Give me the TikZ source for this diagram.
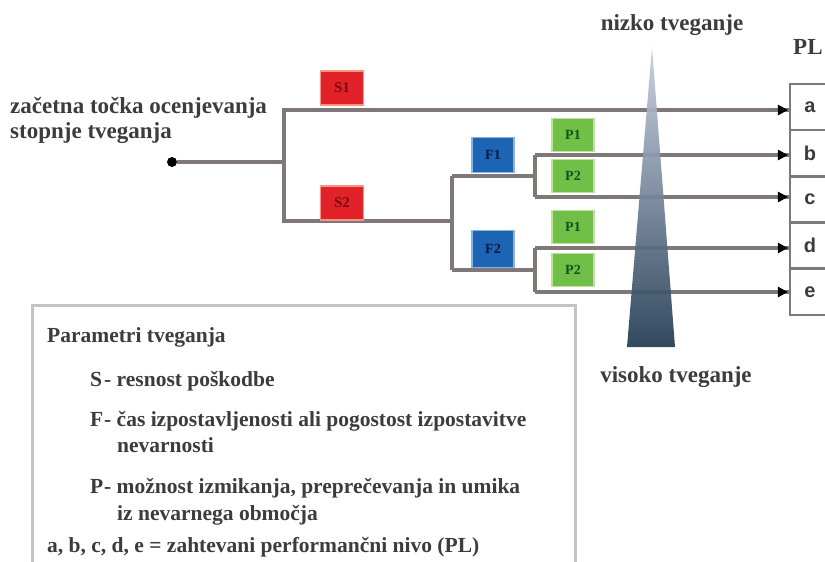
\documentclass[tikz,border=0pt]{standalone}
\usepackage{fontspec}
\setmainfont{Liberation Serif}
\setsansfont{Liberation Sans}
\usetikzlibrary{arrows.meta}
\definecolor{linegray}{RGB}{128,120,120}
\definecolor{sred}{RGB}{226,34,40}
\definecolor{sredb}{RGB}{245,150,130}
\definecolor{sredt}{RGB}{120,12,18}
\definecolor{fblue}{RGB}{28,100,180}
\definecolor{fblueb}{RGB}{140,180,225}
\definecolor{fbluet}{RGB}{8,25,60}
\definecolor{pgreen}{RGB}{112,192,72}
\definecolor{pgreenb}{RGB}{190,225,160}
\definecolor{pgreent}{RGB}{12,85,28}
\definecolor{legline}{RGB}{195,195,195}
\definecolor{txt}{RGB}{60,60,60}
\begin{document}
\begin{tikzpicture}[x=1pt,y=-1pt,
  conn/.style={draw=linegray,line width=3.5pt,line join=miter},
  sbox/.style={fill=sred,draw=sredb,line width=1.5pt,minimum width=43pt,minimum height=34pt,inner sep=0pt,text=sredt,font=\fontsize{15}{15}\selectfont\bfseries},
  fbox/.style={fill=fblue,draw=fblueb,line width=1.5pt,minimum width=42pt,minimum height=35pt,inner sep=0pt,text=fbluet,font=\fontsize{14}{14}\selectfont\bfseries},
  pbox/.style={fill=pgreen,draw=pgreenb,line width=1.5pt,minimum width=42pt,minimum height=33pt,inner sep=0pt,text=pgreent,font=\fontsize{14}{14}\selectfont\bfseries},
  plrow/.style={draw=linegray,line width=2.5pt,fill=white,minimum width=40pt,minimum height=46.2pt,inner sep=0pt,text=txt,font=\sffamily\fontsize{20}{20}\selectfont\bfseries},
  lbl/.style={inner sep=0pt,text=txt,font=\fontsize{23}{25}\selectfont\bfseries},
  tipfill/.style={fill=black},
  leg/.style={inner sep=0pt,anchor=base west,text=txt,font=\fontsize{21.5}{24}\selectfont\bfseries}
]
\useasboundingbox (0,0) rectangle (825,562);
\fill[white] (0,0) rectangle (825,562);

% PL column
\node[plrow] (ra) at (810,107) {a};
\node[plrow] (rb) at (810,153.2) {b};
\node[plrow] (rc) at (810,199.4) {c};
\node[plrow] (rd) at (810,245.6) {d};
\node[plrow] (re) at (810,291.8) {e};
\node[lbl,anchor=west] (pl) at (793,47) {PL};

% start
\node[circle,fill=black,inner sep=0pt,minimum size=10pt] (st) at (172,162) {};
\coordinate (j1) at (284,162);
\coordinate (j1t) at (284,110);
\coordinate (j1b) at (284,221);
\coordinate (j2) at (452,221);
\coordinate (j2t) at (452,176);
\coordinate (j2b) at (452,270);
\coordinate (j3) at (535,176);
\coordinate (j3t) at (535,155);
\coordinate (j3b) at (535,197);
\coordinate (j4) at (535,270);
\coordinate (j4t) at (535,248);
\coordinate (j4b) at (535,292);

\draw[conn] (st) -- (j1);
\draw[conn] (j2) -- (j1b) -- (j1t) -- (ra.west |- j1t);
\draw[conn] (j2t) -- (j2b);
\draw[conn] (j2t) -- (j3);
\draw[conn] (j2b) -- (j4);
\draw[conn] (j3t) -- (j3b);
\draw[conn] (j4t) -- (j4b);
\draw[conn] (j3t) -- (rb.west |- j3t);
\draw[conn] (j3b) -- (rc.west |- j3b);
\draw[conn] (j4t) -- (rd.west |- j4t);
\draw[conn] (j4b) -- (re.west |- j4b);

% boxes
\node[sbox] (s1) at (342,88) {S1};
\node[sbox] (s2) at (342,203) {S2};
\node[fbox] (f1) at (493,155) {F1};
\node[fbox,minimum height=37pt] (f2) at (493,249) {F2};
\node[pbox] (p1a) at (573,135) {P1};
\node[pbox] (p2a) at (573,176) {P2};
\node[pbox] (p1b) at (573,227) {P1};
\node[pbox] (p2b) at (573,270) {P2};

% risk spike
\shade[top color={rgb,255:red,200;green,208;blue,226},middle color={rgb,255:red,118;green,145;blue,192},bottom color={rgb,255:red,32;green,58;blue,82},opacity=0.92]
  (652,47) -- (675,347) -- (627,347) -- cycle;

% arrow tips
\foreach \r/\j in {ra/j1t,rb/j3t,rc/j3b,rd/j4t,re/j4b}{
  \fill[tipfill] ([xshift=-11pt,yshift=-5.5pt]\r.west |- \j) -- ([xshift=-1pt]\r.west |- \j) -- ([xshift=-11pt,yshift=5.5pt]\r.west |- \j) -- cycle;
}

% labels
\node[lbl,anchor=west,align=left] (start) at (10,120.5) {začetna točka ocenjevanja\\stopnje tveganja};
\node[lbl] (low) at (672,25) {nizko tveganje};
\node[lbl] (high) at (676,377) {visoko tveganje};

% legend
\draw[draw=legline,line width=3pt] (32,305) rectangle (575,580);
\node[leg] (lg0) at (47,342) {Parametri tveganja};
\node[leg] (lgs) at (90,386) {S};
\node[leg] (lgs2) at (104,386) {- resnost poškodbe};
\node[leg] (lgf) at (90,426) {F};
\node[leg] (lgf2) at (104,426) {- čas izpostavljenosti ali pogostost izpostavitve};
\node[leg] (lgf3) at (117,452) {nevarnosti};
\node[leg] (lgp) at (90,493) {P};
\node[leg] (lgp2) at (104,493) {- možnost izmikanja, preprečevanja in umika};
\node[leg] (lgp3) at (117,520) {iz nevarnega območja};
\node[leg] (lge) at (47,552) {a, b, c, d, e = zahtevani performančni nivo (PL)};
\end{tikzpicture}
\end{document}
